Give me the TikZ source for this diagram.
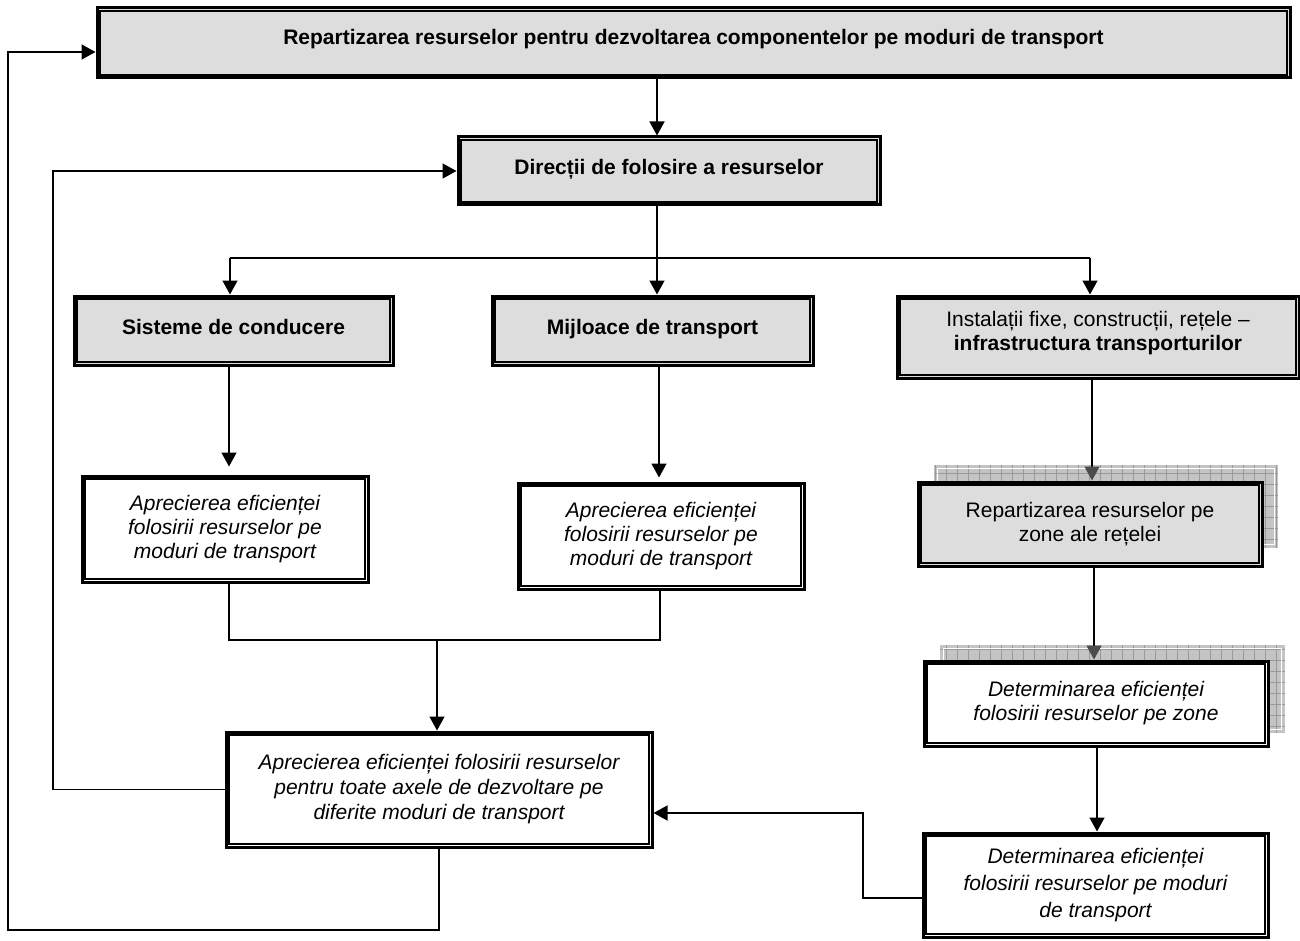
\documentclass[tikz,border=0pt]{standalone}
\usepackage{fontspec}
\setmainfont{Liberation Sans}
\usetikzlibrary{arrows.meta,calc}

\definecolor{boxgray}{HTML}{DDDDDD}
\definecolor{shadegray}{HTML}{C4C4C4}
\definecolor{gridgray}{HTML}{999999}

\begin{document}
\begin{tikzpicture}[x=1pt,y=-1pt,
  frame/.style={draw=black, line width=3pt, inner sep=0pt, align=center,
                font=\fontsize{21}{24.5}\selectfont},
  shaded/.style={frame, fill=boxgray},
  plain/.style={frame, fill=white},
  conn/.style={line width=1.5pt},
  arr/.style={conn, -{Triangle[length=14pt,width=15pt]}},
  dimarr/.style={conn, -{Triangle[length=14pt,width=15pt,color=black!70]}},
]
\useasboundingbox (0,0) rectangle (1300,941);

% textured drop shadows behind the two zone boxes
\fill[shadegray] (934,465) rectangle (1278,548);
\draw[gridgray, line width=0.7pt, step=11pt] (934,465) grid (1278,548);
\draw[white, line width=1pt] (937,468) rectangle (1274,544);
\fill[shadegray] (940,645) rectangle (1285,733);
\draw[gridgray, line width=0.7pt, step=11pt] (940,645) grid (1285,733);
\draw[white, line width=1pt] (943,648) rectangle (1281,729);

% boxes
\node[shaded, minimum width=1193pt, minimum height=70pt, text depth=12pt]
  (top) at (693.5,43) {\bfseries Repartizarea resurselor pentru dezvoltarea componentelor pe moduri de transport};
\node[shaded, minimum width=422pt, minimum height=68pt, text depth=8pt]
  (dir) at (669,171) {\bfseries Direcții de folosire a resurselor};
\node[shaded, minimum width=319pt, minimum height=69pt, text depth=8pt]
  (sis) at (233.5,330.5) {\bfseries Sisteme de conducere};
\node[shaded, minimum width=321pt, minimum height=69pt, text depth=8pt]
  (mij) at (652.5,330.5) {\bfseries Mijloace de transport};
\node[shaded, minimum width=402pt, minimum height=82pt, text depth=12pt]
  (inst) at (1098,337) {Instalații fixe, construcții, rețele –\\\textbf{infrastructura transporturilor}};
\node[plain, minimum width=286pt, minimum height=106pt, font=\fontsize{21}{24}\itshape]
  (apr1) at (225,529) {Aprecierea eficienței\\folosirii resurselor pe\\moduri de transport};
\node[plain, minimum width=286pt, minimum height=106pt, font=\fontsize{21}{24}\itshape]
  (apr2) at (661,536) {Aprecierea eficienței\\folosirii resurselor pe\\moduri de transport};
\node[plain, minimum width=426pt, minimum height=115pt, font=\fontsize{21}{25}\itshape]
  (aprb) at (439,789.5) {Aprecierea eficienței folosirii resurselor\\pentru toate axele de dezvoltare pe\\diferite moduri de transport};
\node[shaded, minimum width=344pt, minimum height=84pt]
  (rep) at (1090,524) {Repartizarea resurselor pe\\zone ale rețelei};
\node[plain, minimum width=344pt, minimum height=85pt, font=\fontsize{21}{24}\itshape]
  (detz) at (1096,703.5) {Determinarea eficienței\\folosirii resurselor pe zone};
\node[plain, minimum width=345pt, minimum height=104pt, font=\fontsize{21}{27}\itshape]
  (detm) at (1095.5,885) {Determinarea eficienței\\folosirii resurselor pe moduri\\de transport};

% thin inner line of each double frame
\foreach \n in {top,dir,sis,mij,inst,apr1,apr2,aprb,rep,detz,detm}
  \draw[line width=1.8pt] ([xshift=4.5pt,yshift=-4.5pt]\n.north west)
    rectangle ([xshift=-4.5pt,yshift=4.5pt]\n.south east);

% column positions of the vertical connectors
\coordinate (cA) at (657,0);
\coordinate (cS) at (229,0);
\coordinate (cM) at (659,0);
\coordinate (cJ) at (660,0);
\coordinate (cR) at (1092,0);
\coordinate (cZ) at (1094,0);
\coordinate (cD) at (1097,0);
\coordinate (split) at (657,258);
\coordinate (splitL) at (230,258);
\coordinate (splitR) at (1090,258);
\coordinate (joinL) at (229,640);
\coordinate (joinR) at (660,640);
\coordinate (joinM) at (437,640);
\coordinate (topin) at ([yshift=-9pt]top.west);
\coordinate (bigin) at ([yshift=-23.5pt]aprb.east);
\coordinate (detout) at ([yshift=-13pt]detm.west);

% main flow
\draw[arr] (top.south -| cA) -- (dir.north -| cA);
\draw[conn] (dir.south -| cA) -- (split);
\draw[conn] (splitL) -- (splitR);
\draw[arr] (splitL) -- (sis.north -| splitL);
\draw[arr] (split) -- (mij.north -| split);
\draw[arr] (splitR) -- (inst.north -| splitR);

\draw[arr, shorten >=8pt] (sis.south -| cS) -- (apr1.north -| cS);
\draw[arr, shorten >=4pt] (mij.south -| cM) -- (apr2.north -| cM);
\draw[conn] (apr1.south -| cS) -- (joinL) -- (joinR) -- (apr2.south -| cJ);
\draw[arr] (joinM) -- (aprb.north -| joinM);

\draw[dimarr] (inst.south -| cR) -- (rep.north -| cR);
\draw[dimarr] (rep.south -| cZ) -- (detz.north -| cZ);
\draw[arr] (detz.south -| cD) -- (detm.north -| cD);

% feedback paths
\draw[arr] (detout) -- (863,898) |- (bigin);
\draw[arr] (aprb.west) -- (53,789.5) |- (dir.west);
\draw[arr] (aprb.south) |- (8,930) |- (topin);
\end{tikzpicture}
\end{document}
